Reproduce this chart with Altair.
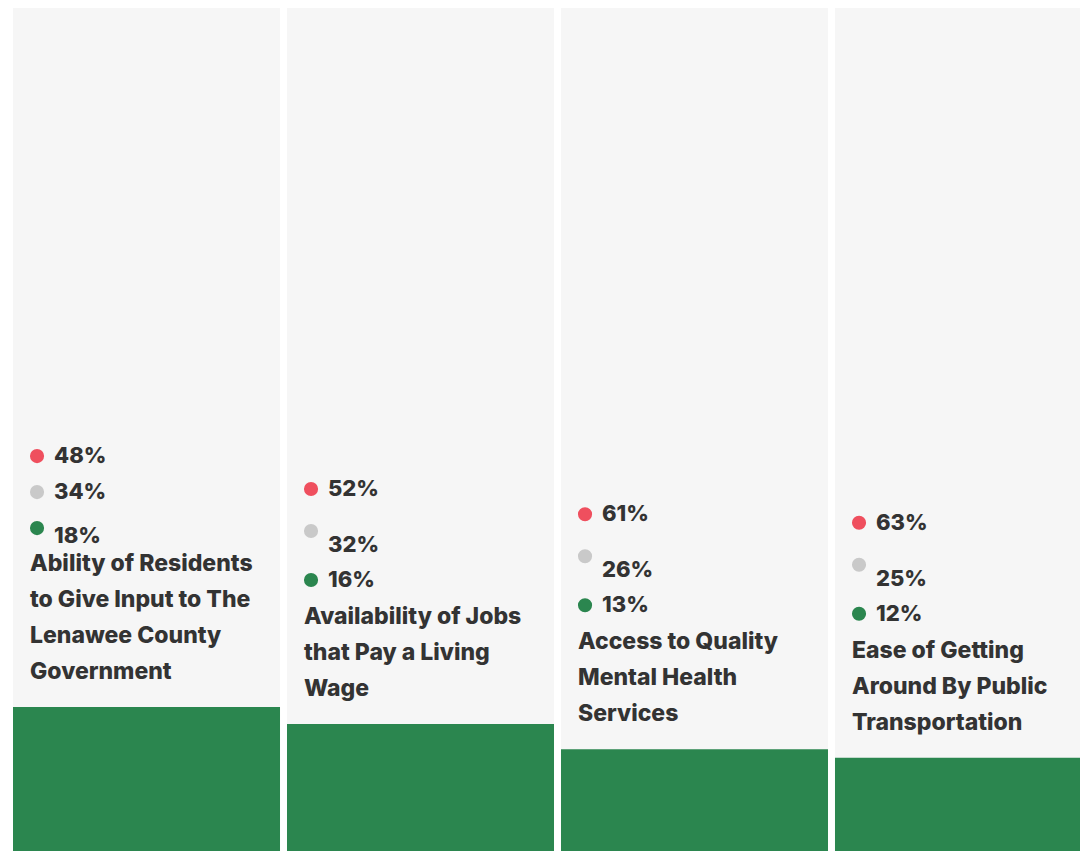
import altair as alt
import pandas as pd

# ---- data ----
panels = ["Ability", "Jobs", "Mental", "Transit"]
title_lines = [
    ["Ability of Residents", "to Give Input to The", "Lenawee County", "Government"],
    ["Availability of Jobs", "that Pay a Living", "Wage"],
    ["Access to Quality", "Mental Health", "Services"],
    ["Ease of Getting", "Around By Public", "Transportation"],
]
negative = [48, 52, 61, 63]
neutral = [34, 32, 26, 25]
positive = [18, 16, 13, 12]

# ---- style / layout ----
W, H = 1072, 843
BOTTOM = 851          # pixel position of 0 %
PX_PER_PCT = 8.44
RED, GRAY, GREEN = "#ef4f5e", "#c9c9c9", "#2b864f"
BG = "#f6f6f6"
TXT = "#333333"
FONT = "Inter"
LINE = 36

title_rows, pct_rows, dot_rows = [], [], []
for p, lines, neg, neu, pos in zip(panels, title_lines, negative, neutral, positive):
    n = len(lines)
    for i, ln in enumerate(lines):
        off = 35 + (n - 1 - i) * LINE
        title_rows.append({"panel": p, "text": ln, "ypos": pos + off / PX_PER_PCT})
    T = 35 + (n - 1) * LINE
    if n >= 4:
        spec = {"neg": (T + 108, T + 108), "neu": (T + 72, T + 72), "pos": (T + 28, T + 36)}
    else:
        spec = {"neg": (T + 128, T + 128), "neu": (T + 72, T + 86), "pos": (T + 37, T + 37)}
    for key, val in (("neg", neg), ("neu", neu), ("pos", pos)):
        pct_rows.append({"panel": p, "text": f"{val}%", "ypos": pos + spec[key][0] / PX_PER_PCT})
        dot_rows.append({"panel": p, "kind": key, "ypos": pos + spec[key][1] / PX_PER_PCT})

bars = pd.DataFrame({"panel": panels, "bar": positive})
titles = pd.DataFrame(title_rows)
pcts = pd.DataFrame(pct_rows)
dots = pd.DataFrame(dot_rows)

xscale = alt.Scale(domain=panels, range=[5, 1094], paddingInner=0.0255, paddingOuter=0)
yscale = alt.Scale(domain=[0, 100], range=[BOTTOM, BOTTOM - 100 * PX_PER_PCT])

x_band = alt.X("panel:N", scale=xscale, axis=None)
x_left = alt.X("panel:N", scale=xscale, axis=None, bandPosition=0)
x_dot = alt.X("panel:N", scale=xscale, axis=None, bandPosition=0.09)
y_bar = alt.Y("bar:Q", scale=yscale, axis=None)
y_pos = alt.Y("ypos:Q", scale=yscale, axis=None)

bg = alt.Chart(bars).mark_bar(color=BG).encode(
    x=x_band, y=alt.value(0), y2=alt.value(H)
)
green = alt.Chart(bars).mark_bar(color=GREEN).encode(x=x_band, y=y_bar)

title_text = alt.Chart(titles).mark_text(
    align="left", baseline="middle", dx=17, font=FONT, fontWeight=800,
    fontSize=23, color=TXT
).encode(x=x_left, y=y_pos, text="text:N")

pct_text = alt.Chart(pcts).mark_text(
    align="left", baseline="middle", dx=41, font=FONT, fontWeight=800,
    fontSize=22, color=TXT
).encode(x=x_left, y=y_pos, text="text:N")

dot = alt.Chart(dots).mark_circle(size=200, opacity=1).encode(
    x=x_dot, y=y_pos,
    color=alt.Color("kind:N", scale=alt.Scale(domain=["neg", "neu", "pos"], range=[RED, GRAY, GREEN]), legend=None),
)

chart = alt.layer(bg, green, dot, pct_text, title_text).properties(
    width=W, height=H, autosize=alt.AutoSizeParams(type="none"), padding=0,
    background="white"
).configure_view(stroke=None)

chart.save("out.html", embed_options={"renderer": "svg", "actions": False})
